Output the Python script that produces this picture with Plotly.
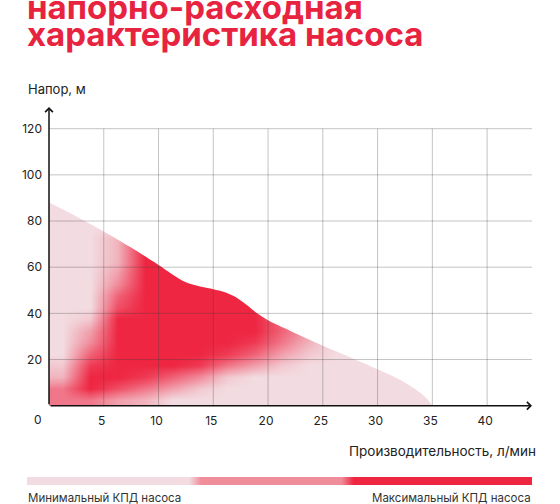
import plotly.graph_objects as go

# head curve of the pump (flow l/min -> head m)
flow = [0, 2.5, 5, 7.5, 10, 12.5, 15, 16, 17, 18, 19, 20, 22, 25, 27.5, 30, 32, 33.5, 34.5, 35]
head = [88, 82, 75.5, 68.5, 61, 53.5, 50.5, 49.3, 47.2, 43.8, 40, 37, 32.5, 26, 21, 15.8, 11.4, 7, 3, 0]

x_ticks = [5, 10, 15, 20, 25, 30, 35, 40]
y_ticks = [20, 40, 60, 80, 100, 120]

# efficiency map: 0 = minimum, 9 = maximum; cells between these edges
eff_flow_edges = [0, 2.5, 5, 7.5, 10, 12.5, 15, 17.5, 20, 22.5, 25, 27.5, 30, 32.5, 35]
eff_head_edges = [0, 5, 10, 15, 20, 25, 30, 35, 40, 45, 50, 55, 60, 65, 70, 75, 80, 85, 90]
eff_rows_top_down = [
    [0, 0, 0, 9, 9, 9, 9, 9, 6, 3, 1, 0, 0, 0],
    [0, 0, 0, 9, 9, 9, 9, 9, 6, 3, 1, 0, 0, 0],
    [0, 0, 0, 9, 9, 9, 9, 9, 6, 3, 1, 0, 0, 0],
    [0, 0, 2, 9, 9, 9, 9, 9, 6, 3, 1, 0, 0, 0],
    [0, 0, 2, 9, 9, 9, 9, 9, 6, 3, 1, 0, 0, 0],
    [0, 0, 2, 9, 9, 9, 9, 9, 6, 3, 1, 0, 0, 0],
    [0, 0, 3, 9, 9, 9, 9, 9, 6, 3, 1, 0, 0, 0],
    [0, 0, 4, 9, 9, 9, 9, 9, 6, 3, 1, 0, 0, 0],
    [0, 0, 6, 9, 9, 9, 9, 9, 6, 3, 1, 0, 0, 0],
    [0, 0, 7, 9, 9, 9, 9, 9, 6, 3, 1, 0, 0, 0],
    [0, 1, 9, 9, 9, 9, 9, 9, 6, 3, 1, 0, 0, 0],
    [0, 3, 9, 9, 9, 9, 9, 9, 6, 3, 1, 0, 0, 0],
    [0, 4, 9, 9, 9, 9, 9, 8, 5, 2, 0, 0, 0, 0],
    [0, 6, 9, 9, 9, 9, 8, 6, 3, 1, 0, 0, 0, 0],
    [1, 8, 9, 9, 9, 8, 5, 3, 1, 0, 0, 0, 0, 0],
    [2, 9, 9, 8, 6, 4, 1, 0, 0, 0, 0, 0, 0, 0],
    [5, 9, 7, 5, 3, 1, 0, 0, 0, 0, 0, 0, 0, 0],
    [5, 5, 3, 2, 0, 0, 0, 0, 0, 0, 0, 0, 0, 0],
]

# legend strip: where each efficiency band ends (share of strip width)
band_ends = [0.333, 0.635, 1.0]

RED = "#E8233F"
PINK_LIGHT = "#F2DCE1"
PINK_MID = "#EF8D9B"
PINK_RED = "#EE2642"
FONT = "Inter, Lato, sans-serif"

W, H = 560, 504
L_PX, R_PX, T_PX, B_PX = 27, 532, 107, 485


def px_x(p):
    return (p - L_PX) / (R_PX - L_PX)


def px_y(p):
    return (B_PX - p) / (B_PX - T_PX)


x_max = 44.1
y_max = 129.4

fig = go.Figure()

fig.add_trace(go.Heatmap(
    x=eff_flow_edges, y=eff_head_edges, z=eff_rows_top_down[::-1],
    zmin=0, zmax=9, zsmooth="best",
    colorscale=[[0, PINK_LIGHT], [1, PINK_RED]],
    showscale=False, hoverinfo="skip",
))

# white mask above the head curve
fig.add_trace(go.Scatter(
    x=flow, y=[y_max] * len(flow),
    mode="lines", line=dict(width=0, color="rgba(0,0,0,0)"),
    hoverinfo="skip", showlegend=False,
))
fig.add_trace(go.Scatter(
    x=flow, y=head, mode="lines",
    line=dict(width=0, color="rgba(0,0,0,0)", shape="spline", smoothing=0.9),
    fill="tonexty", fillcolor="white",
    hoverinfo="skip", showlegend=False,
))

# efficiency legend strip
s = 0.012
bar_scale = [
    [0, PINK_LIGHT], [band_ends[0] - s, PINK_LIGHT], [band_ends[0] + s, PINK_MID],
    [band_ends[1] - s, PINK_MID], [band_ends[1] + s, PINK_RED], [1, PINK_RED],
]
fig.add_trace(go.Scatter(
    x=[0, band_ends[-1], band_ends[-1], 0, 0], y=[0, 0, 1, 1, 0],
    xaxis="x2", yaxis="y2", mode="lines", line=dict(width=0),
    fill="toself", fillgradient=dict(type="horizontal", colorscale=bar_scale),
    hoverinfo="skip", showlegend=False,
))

# grid drawn over the fill
grid = "rgba(60,60,60,0.30)"
shapes = []
for q in x_ticks:
    shapes.append(dict(type="line", xref="x", yref="y", x0=q, x1=q, y0=0, y1=y_ticks[-1],
                       line=dict(color=grid, width=1), layer="above"))
for h in y_ticks:
    shapes.append(dict(type="line", xref="x", yref="y", x0=0, x1=x_max, y0=h, y1=h,
                       line=dict(color=grid, width=1), layer="above"))

annotations = [
    # axes with arrows
    dict(x=x_max, y=0, ax=0, ay=0, xref="x", yref="y", axref="x", ayref="y", text="",
         showarrow=True, arrowhead=4, arrowsize=1, arrowwidth=1.5, arrowcolor="#111"),
    dict(x=0, y=y_max, ax=0, ay=0, xref="x", yref="y", axref="x", ayref="y", text="",
         showarrow=True, arrowhead=4, arrowsize=1, arrowwidth=1.5, arrowcolor="#111"),
    dict(x=0, y=0, xref="x", yref="y", text="0", showarrow=False,
         xanchor="right", yanchor="top", xshift=-5, yshift=-4,
         font=dict(family=FONT, size=12, color="#222")),
    # titles
    dict(x=px_x(25), y=px_y(7), xref="paper", yref="paper", text="<b>напорно-расходная</b>",
         showarrow=False, xanchor="left", yanchor="middle",
         font=dict(family=FONT, size=33, color=RED)),
    dict(x=px_x(25), y=px_y(34), xref="paper", yref="paper", text="<b>характеристика насоса</b>",
         showarrow=False, xanchor="left", yanchor="middle",
         font=dict(family=FONT, size=33, color=RED)),
    dict(x=px_x(26), y=px_y(89), xref="paper", yref="paper", text="Напор, м",
         showarrow=False, xanchor="left", yanchor="middle",
         font=dict(family=FONT, size=13, color="#222")),
    dict(x=px_x(538), y=px_y(451), xref="paper", yref="paper", text="Производительность, л/мин",
         showarrow=False, xanchor="right", yanchor="middle",
         font=dict(family=FONT, size=13.5, color="#222")),
    dict(x=px_x(26), y=px_y(498), xref="paper", yref="paper", text="Минимальный КПД насоса",
         showarrow=False, xanchor="left", yanchor="middle",
         font=dict(family=FONT, size=11.5, color="#333")),
    dict(x=px_x(533), y=px_y(498), xref="paper", yref="paper", text="Максимальный КПД насоса",
         showarrow=False, xanchor="right", yanchor="middle",
         font=dict(family=FONT, size=11.5, color="#333")),
]

fig.update_layout(
    width=W, height=H,
    margin=dict(l=L_PX, r=W - R_PX, t=T_PX, b=H - B_PX),
    paper_bgcolor="white", plot_bgcolor="white",
    showlegend=False,
    font=dict(family=FONT, size=12, color="#222"),
    xaxis=dict(domain=[px_x(49), 1], range=[0, x_max], tickvals=x_ticks,
               showgrid=False, zeroline=False, showline=False, ticks="",
               ticklabelstandoff=6, ticklabelshift=-2, fixedrange=True),
    yaxis=dict(domain=[px_y(405.7), 1], range=[0, y_max], tickvals=y_ticks,
               showgrid=False, zeroline=False, showline=False, ticks="",
               ticklabelstandoff=6, fixedrange=True),
    xaxis2=dict(domain=[0, 1], range=[0, 1], anchor="y2", visible=False, fixedrange=True),
    yaxis2=dict(domain=[0, px_y(477)], range=[0, 1], anchor="x2", visible=False, fixedrange=True),
    shapes=shapes,
    annotations=annotations,
)

fig.write_html("out.html", config={"displayModeBar": False},
               post_script="document.body.style.margin='0';")
